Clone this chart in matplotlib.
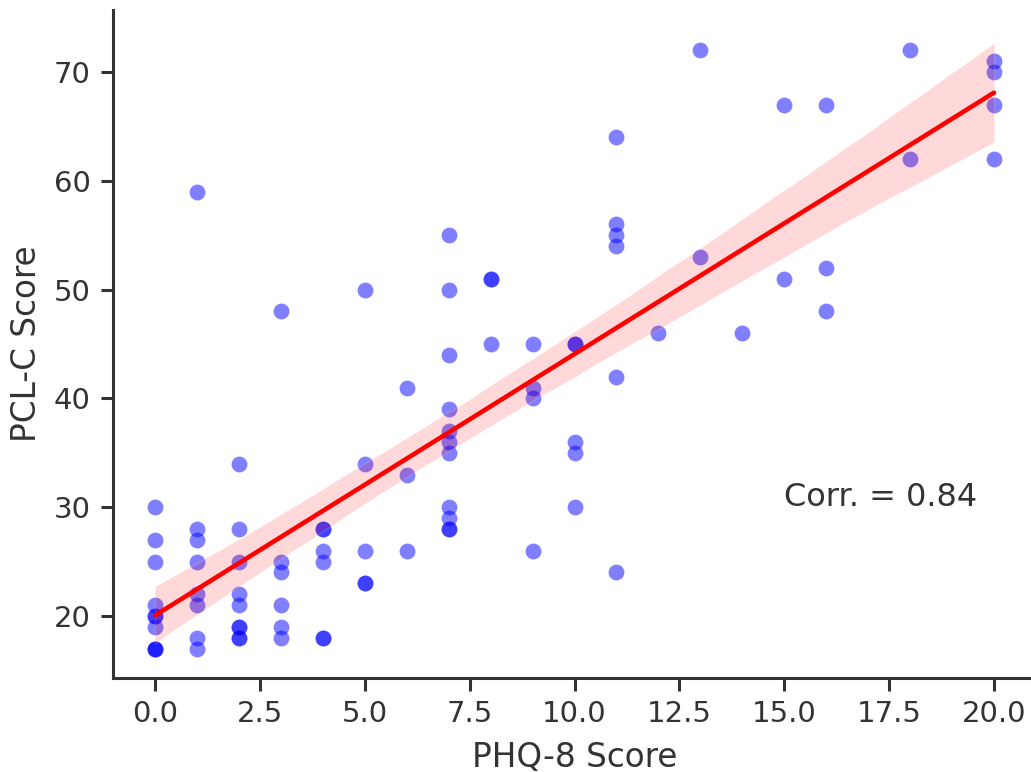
import matplotlib
matplotlib.use("Agg")
import matplotlib.pyplot as plt
import seaborn as sns
import numpy as np

# PHQ-8 scores (x) and PCL-C scores (y)
phq_0 = [30, 27, 25, 21, 20, 20, 19, 17, 17, 17]
phq_1 = [59, 28, 27, 25, 22, 21, 18, 17]
phq_2 = [34, 28, 25, 22, 21, 19, 19, 18, 18]
phq_3 = [48, 25, 24, 21, 19, 18]
phq_4 = [28, 28, 26, 25, 18, 18]
phq_5 = [50, 34, 26, 23, 23]
phq_6 = [41, 33, 26]
phq_7 = [55, 50, 44, 39, 37, 36, 35, 30, 29, 28, 28]
phq_8 = [51, 51, 45]
phq_9 = [45, 41, 40, 26]
phq_10 = [45, 45, 36, 35, 30]
phq_11 = [64, 56, 55, 54, 42, 24]
phq_12 = [46]
phq_13 = [72, 53]
phq_14 = [46]
phq_15 = [67, 51]
phq_16 = [67, 52, 48]
phq_18 = [72, 62]
phq_20 = [71, 70, 67, 62]

groups = {0: phq_0, 1: phq_1, 2: phq_2, 3: phq_3, 4: phq_4, 5: phq_5,
          6: phq_6, 7: phq_7, 8: phq_8, 9: phq_9, 10: phq_10, 11: phq_11,
          12: phq_12, 13: phq_13, 14: phq_14, 15: phq_15, 16: phq_16,
          18: phq_18, 20: phq_20}

x = []
y = []
for k, vals in groups.items():
    for v in vals:
        x.append(k)
        y.append(v)
x = np.array(x, dtype=float)
y = np.array(y, dtype=float)

corr_label = "Corr. = 0.84"

sns.set_theme(style="ticks")
plt.rcParams['font.family'] = ['DejaVu Sans']

fig = plt.figure(figsize=(10.31, 7.72), dpi=100)
W, H = 1031, 772
left, right, bottom, top = 113, 1036, 678, 10
ax = fig.add_axes([left / W, 1 - bottom / H, (right - left) / W, (bottom - top) / H])

sns.regplot(x=x, y=y, ax=ax, seed=0,
            scatter_kws={'color': 'blue', 'alpha': 0.5, 's': 130, 'linewidths': 0},
            line_kws={'color': 'red', 'linewidth': 3.3})

ax.set_xlim(-1, 21)
ax.set_ylim(14.3, 75.7)
ax.set_xticks([0, 2.5, 5, 7.5, 10, 12.5, 15, 17.5, 20])
ax.set_xticklabels(['0.0', '2.5', '5.0', '7.5', '10.0', '12.5', '15.0', '17.5', '20.0'])
ax.set_yticks([20, 30, 40, 50, 60, 70])

for s in ['top', 'right']:
    ax.spines[s].set_visible(False)
for s in ['left', 'bottom']:
    ax.spines[s].set_linewidth(2.2)
    ax.spines[s].set_color('#333333')

ax.tick_params(axis='both', length=9, width=2.2, color='#333333',
               labelsize=21, labelcolor='#333333', pad=7)
ax.set_xlabel("PHQ-8 Score", fontsize=23.5, color='#333333', labelpad=9)
ax.set_ylabel("PCL-C Score", fontsize=23.5, color='#333333', labelpad=8)

ax.text(15, 30.9, corr_label, fontsize=23, color='#333333', va='center', ha='left')

fig.savefig("out.png", dpi=100)
